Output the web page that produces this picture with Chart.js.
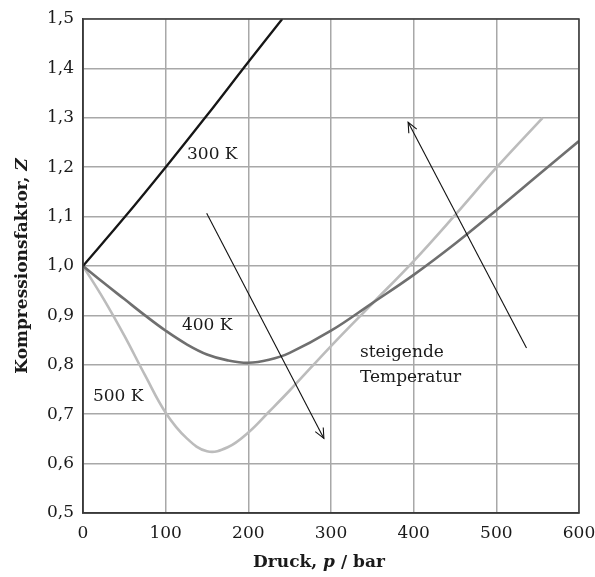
<!DOCTYPE html>
<html>
<head>
<meta charset="utf-8">
<script src="https://cdn.jsdelivr.net/npm/chart.js@4.4.1/dist/chart.umd.min.js"></script>
<style>
  html, body { margin: 0; padding: 0; background: #fff; }
  #wrap { width: 595px; height: 577px; position: relative; }
</style>
</head>
<body>
<div id="wrap"><canvas id="c"></canvas></div>
<script>
// ---- Data ----
const pressure300 = [0, 50, 100, 150, 200, 241];
const z300        = [1.0, 1.098, 1.2, 1.305, 1.413, 1.5];

const pressure400 = [0, 25, 50, 75, 100, 125, 150, 175, 200, 225, 250, 300, 350, 400, 450, 500, 550, 600];
const z400        = [1.0, 0.966, 0.933, 0.900, 0.869, 0.842, 0.821, 0.809, 0.804, 0.810, 0.824, 0.869, 0.925, 0.982, 1.045, 1.113, 1.183, 1.253];

const pressure500 = [0, 25, 50, 75, 100, 125, 150, 175, 200, 225, 250, 300, 350, 400, 450, 500, 556];
const z500        = [1.0, 0.933, 0.859, 0.779, 0.703, 0.652, 0.625, 0.633, 0.663, 0.705, 0.748, 0.838, 0.924, 1.010, 1.103, 1.199, 1.300];

const seriesNames = ['300 K', '400 K', '500 K'];
const xTicks = [0, 100, 200, 300, 400, 500, 600];
const yTicks = [0.5, 0.6, 0.7, 0.8, 0.9, 1.0, 1.1, 1.2, 1.3, 1.4, 1.5];

// annotation texts with data-space anchors
const labelTexts = ['300 K', '400 K', '500 K', 'steigende', 'Temperatur'];
const labelP     = [125.8, 119.7, 12, 335, 335];
const labelZ     = [1.2255, 0.879, 0.735, 0.824, 0.774];

// arrows (data space): start -> end (head at end)
const arrowFromP = [149.6, 536.5];
const arrowFromZ = [1.107, 0.834];
const arrowToP   = [291.4, 393.3];
const arrowToZ   = [0.651, 1.291];

const toXY = (ps, zs) => ps.map((p, i) => ({ x: p, y: zs[i] }));

const SERIF = '"DejaVu Serif", "Liberation Serif", serif';

const overlay = {
  id: 'overlay',
  afterDatasetsDraw(chart) {
    const { ctx, chartArea: a, scales: { x, y } } = chart;
    ctx.save();
    // frame
    ctx.strokeStyle = '#3a3a3a';
    ctx.lineWidth = 1.5;
    ctx.strokeRect(a.left, a.top, a.right - a.left, a.bottom - a.top);

    // labels
    ctx.fillStyle = '#1a1a1a';
    ctx.font = '17px ' + SERIF;
    ctx.textAlign = 'left';
    ctx.textBaseline = 'middle';
    labelTexts.forEach((t, i) => {
      ctx.fillText(t, x.getPixelForValue(labelP[i]), y.getPixelForValue(labelZ[i]));
    });

    // arrows
    ctx.strokeStyle = '#111';
    ctx.lineWidth = 1.1;
    arrowFromP.forEach((_, i) => {
      const x0 = x.getPixelForValue(arrowFromP[i]), y0 = y.getPixelForValue(arrowFromZ[i]);
      const x1 = x.getPixelForValue(arrowToP[i]),   y1 = y.getPixelForValue(arrowToZ[i]);
      ctx.beginPath(); ctx.moveTo(x0, y0); ctx.lineTo(x1, y1); ctx.stroke();
      const ang = Math.atan2(y1 - y0, x1 - x0), L = 11, spread = 0.42;
      ctx.beginPath();
      ctx.moveTo(x1 - L * Math.cos(ang - spread), y1 - L * Math.sin(ang - spread));
      ctx.lineTo(x1, y1);
      ctx.lineTo(x1 - L * Math.cos(ang + spread), y1 - L * Math.sin(ang + spread));
      ctx.stroke();
    });
    ctx.restore();
  },
  afterDraw(chart) {
    const { ctx, chartArea: a } = chart;
    ctx.save();
    ctx.fillStyle = '#1a1a1a';
    ctx.textBaseline = 'alphabetic';
    const drawRuns = (runs, cx, cy) => {
      let w = 0;
      runs.forEach(r => { ctx.font = r[1]; w += ctx.measureText(r[0]).width; });
      let xx = cx - w / 2;
      ctx.textAlign = 'left';
      runs.forEach(r => { ctx.font = r[1]; ctx.fillText(r[0], xx, cy); xx += ctx.measureText(r[0]).width; });
    };
    const B = 'bold 17px ' + SERIF, BI = 'italic bold 17px ' + SERIF;
    // x title
    drawRuns([['Druck, ', B], ['p', BI], [' / bar', B]], 319, 567);
    // y title
    ctx.translate(27, (a.top + a.bottom) / 2);
    ctx.rotate(-Math.PI / 2);
    drawRuns([['Kompressionsfaktor, ', B], ['Z', BI]], 0, 0);
    ctx.restore();
  }
};

new Chart(document.getElementById('c'), {
  type: 'line',
  data: {
    datasets: [
      { label: seriesNames[0], data: toXY(pressure300, z300), borderColor: '#161616', borderWidth: 2.3, tension: 0.4, pointRadius: 0 },
      { label: seriesNames[1], data: toXY(pressure400, z400), borderColor: '#6f6f6f', borderWidth: 2.6, tension: 0.4, pointRadius: 0 },
      { label: seriesNames[2], data: toXY(pressure500, z500), borderColor: '#bcbcbc', borderWidth: 2.6, tension: 0.4, pointRadius: 0 }
    ]
  },
  options: {
    responsive: true,
    maintainAspectRatio: false,
    animation: false,
    events: [],
    layout: { padding: { top: 19, right: 16, left: 0, bottom: 0 } },
    plugins: { legend: { display: false }, tooltip: { enabled: false } },
    scales: {
      x: {
        type: 'linear', min: 0, max: 600,
        afterBuildTicks: s => { s.ticks = xTicks.map(v => ({ value: v })); },
        afterFit: s => { s.height = 64; s.paddingLeft = 0; s.paddingRight = 0; },
        ticks: { color: '#1a1a1a', font: { family: SERIF, size: 17 }, padding: 10, maxRotation: 0,
                 callback: v => String(v) },
        grid: { color: '#a8a8a8', lineWidth: 1.5, drawTicks: false },
        border: { display: true, color: '#3a3a3a', width: 1.5 }
      },
      y: {
        type: 'linear', min: 0.5, max: 1.5,
        afterBuildTicks: s => { s.ticks = yTicks.map(v => ({ value: v })); },
        afterFit: s => { s.width = 83; s.paddingTop = 0; s.paddingBottom = 0; },
        ticks: { color: '#1a1a1a', font: { family: SERIF, size: 17 }, padding: 9,
                 callback: v => v.toFixed(1).replace('.', ',') },
        grid: { color: '#a8a8a8', lineWidth: 1.5, drawTicks: false },
        border: { display: true, color: '#3a3a3a', width: 1.5 }
      }
    }
  },
  plugins: [overlay]
});
</script>
</body>
</html>
